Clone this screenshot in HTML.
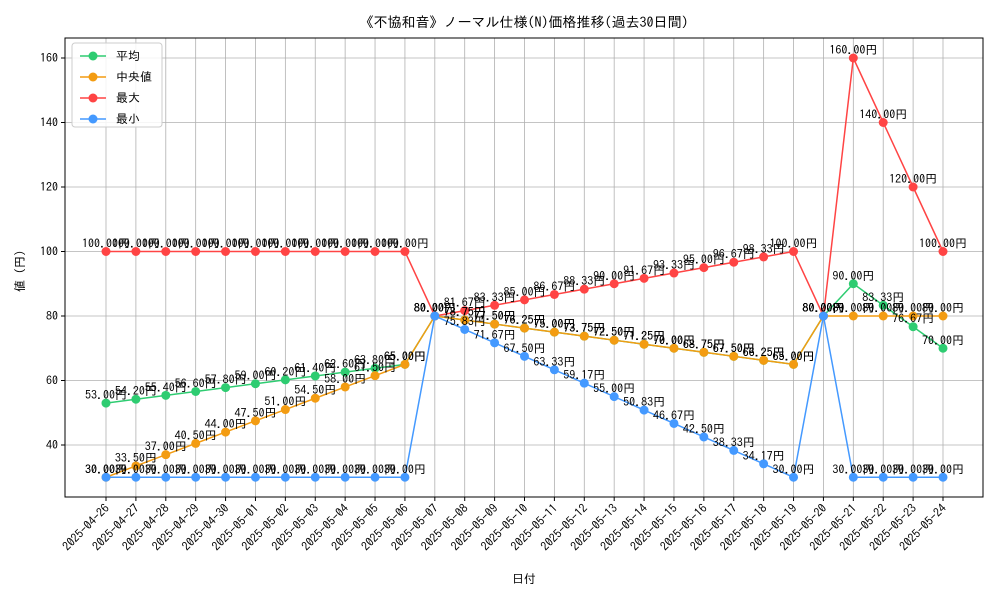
<!DOCTYPE html>
<html><head><meta charset="utf-8">
<style>
body{margin:0;background:#fff;}
svg{font-family:"IPAGothic","Noto Sans CJK JP",sans-serif;}
</style></head>
<body>
<svg id="chart" width="1000" height="600" xmlns="http://www.w3.org/2000/svg">
<rect width="1000" height="600" fill="#fff"/>
<text x="524" y="27" font-size="14" text-anchor="middle">《不協和音》ノーマル仕様(N)価格推移(過去30日間)</text>
<g id="grid"></g>
<g id="axes"></g>
<g id="series"></g>
<g id="labels"></g>
<rect x="65" y="38" width="918" height="459" fill="none" stroke="#000" stroke-width="1"/>
<text x="524" y="583" font-size="12" text-anchor="middle">日付</text>
<text x="0" y="0" font-size="12" text-anchor="middle" transform="translate(24,268) rotate(-90)">値（円）</text>
<g id="legend"></g>
</svg>
<script>
const dates=["2025-04-26","2025-04-27","2025-04-28","2025-04-29","2025-04-30","2025-05-01","2025-05-02","2025-05-03","2025-05-04","2025-05-05","2025-05-06","2025-05-07","2025-05-08","2025-05-09","2025-05-10","2025-05-11","2025-05-12","2025-05-13","2025-05-14","2025-05-15","2025-05-16","2025-05-17","2025-05-18","2025-05-19","2025-05-20","2025-05-21","2025-05-22","2025-05-23","2025-05-24"];
const meanVals=[53,54.2,55.4,56.6,57.8,59,60.2,61.4,62.6,63.8,65,80,78.75,77.5,76.25,75,73.75,72.5,71.25,70,68.75,67.5,66.25,65,80,90,83.33,76.67,70];
const medianVals=[30,33.5,37,40.5,44,47.5,51,54.5,58,61.5,65,80,78.75,77.5,76.25,75,73.75,72.5,71.25,70,68.75,67.5,66.25,65,80,80,80,80,80];
const maxVals=[100,100,100,100,100,100,100,100,100,100,100,80,81.67,83.33,85,86.67,88.33,90,91.67,93.33,95,96.67,98.33,100,80,160,140,120,100];
const minVals=[30,30,30,30,30,30,30,30,30,30,30,80,75.83,71.67,67.5,63.33,59.17,55,50.83,46.67,42.5,38.33,34.17,30,80,30,30,30,30];
const yTicks=[40,60,80,100,120,140,160];
const seriesNames=["平均","中央値","最大","最小"];
const NS="http://www.w3.org/2000/svg";
const X0=106,X1=943,PL=65,PR=983,PT=38,PB=497;
function xs(i){return X0+(X1-X0)*i/(dates.length-1);}
function ys(v){return 445-(v-40)*(445-58)/120;}
function mk(tag,attrs,parent){const e=document.createElementNS(NS,tag);for(const k in attrs)e.setAttribute(k,attrs[k]);parent.appendChild(e);return e;}
const grid=document.getElementById('grid'),axes=document.getElementById('axes');
dates.forEach((d,i)=>{
 const x=xs(i);
 const gl=mk('line',{x1:x,x2:x,y1:PT,y2:PB,stroke:'#b0b0b0','stroke-width':0.8},grid);
 
 
 const tk=mk('line',{x1:x,x2:x,y1:PB,y2:PB+4,stroke:'#000'},axes);
 
 
 const t=mk('text',{x:0,y:0,'font-size':12,'text-anchor':'end',transform:`translate(${x+4},${PB+12}) rotate(-45)`},axes);
 t.textContent=d;
 
 
});
yTicks.forEach(v=>{
 const y=ys(v);
 const gl=mk('line',{x1:PL,x2:PR,y1:y,y2:y,stroke:'#b0b0b0','stroke-width':0.8},grid);
 
 
 const tk=mk('line',{x1:PL-4,x2:PL,y1:y,y2:y,stroke:'#000'},axes);
 
 
 const t=mk('text',{x:PL-7,y:y+4,'font-size':12,'text-anchor':'end'},axes);
 t.textContent=v;
 
 
});
const all=[meanVals,medianVals,maxVals,minVals];
const colors=["#2ecc71","#f39c12","#ff4444","#4499ff"];
const keys=["mean","median","max","min"];
const sg=document.getElementById('series'),lg=document.getElementById('labels');
all.forEach((vals,s)=>{
 const pts=vals.map((v,i)=>xs(i)+','+ys(v)).join(' ');
 const pl=mk('polyline',{points:pts,fill:'none',stroke:colors[s],'stroke-width':1.5},sg);
 
 
 vals.forEach((v,i)=>{
  const c=mk('circle',{cx:xs(i),cy:ys(v),r:4.5,fill:colors[s]},sg);
  
  
  const t=mk('text',{x:xs(i),y:ys(v)-4,'font-size':12,'text-anchor':'middle'},lg);
  t.textContent=v.toFixed(2)+'円';
  
  
 });
});
const leg=document.getElementById('legend');
mk('rect',{x:72,y:43,width:90,height:84,fill:'#fff','fill-opacity':0.85,stroke:'#ccc',rx:3},leg);
seriesNames.forEach((n,s)=>{
 const y=56+s*21;
 const ln=mk('line',{x1:80,x2:106,y1:y,y2:y,stroke:colors[s],'stroke-width':1.5},leg);
 
 
 mk('circle',{cx:93,cy:y,r:4.5,fill:colors[s]},leg);
 const t=mk('text',{x:116,y:y+4,'font-size':12},leg);
 t.textContent=n;
 
 
});
</script>
</body></html>
